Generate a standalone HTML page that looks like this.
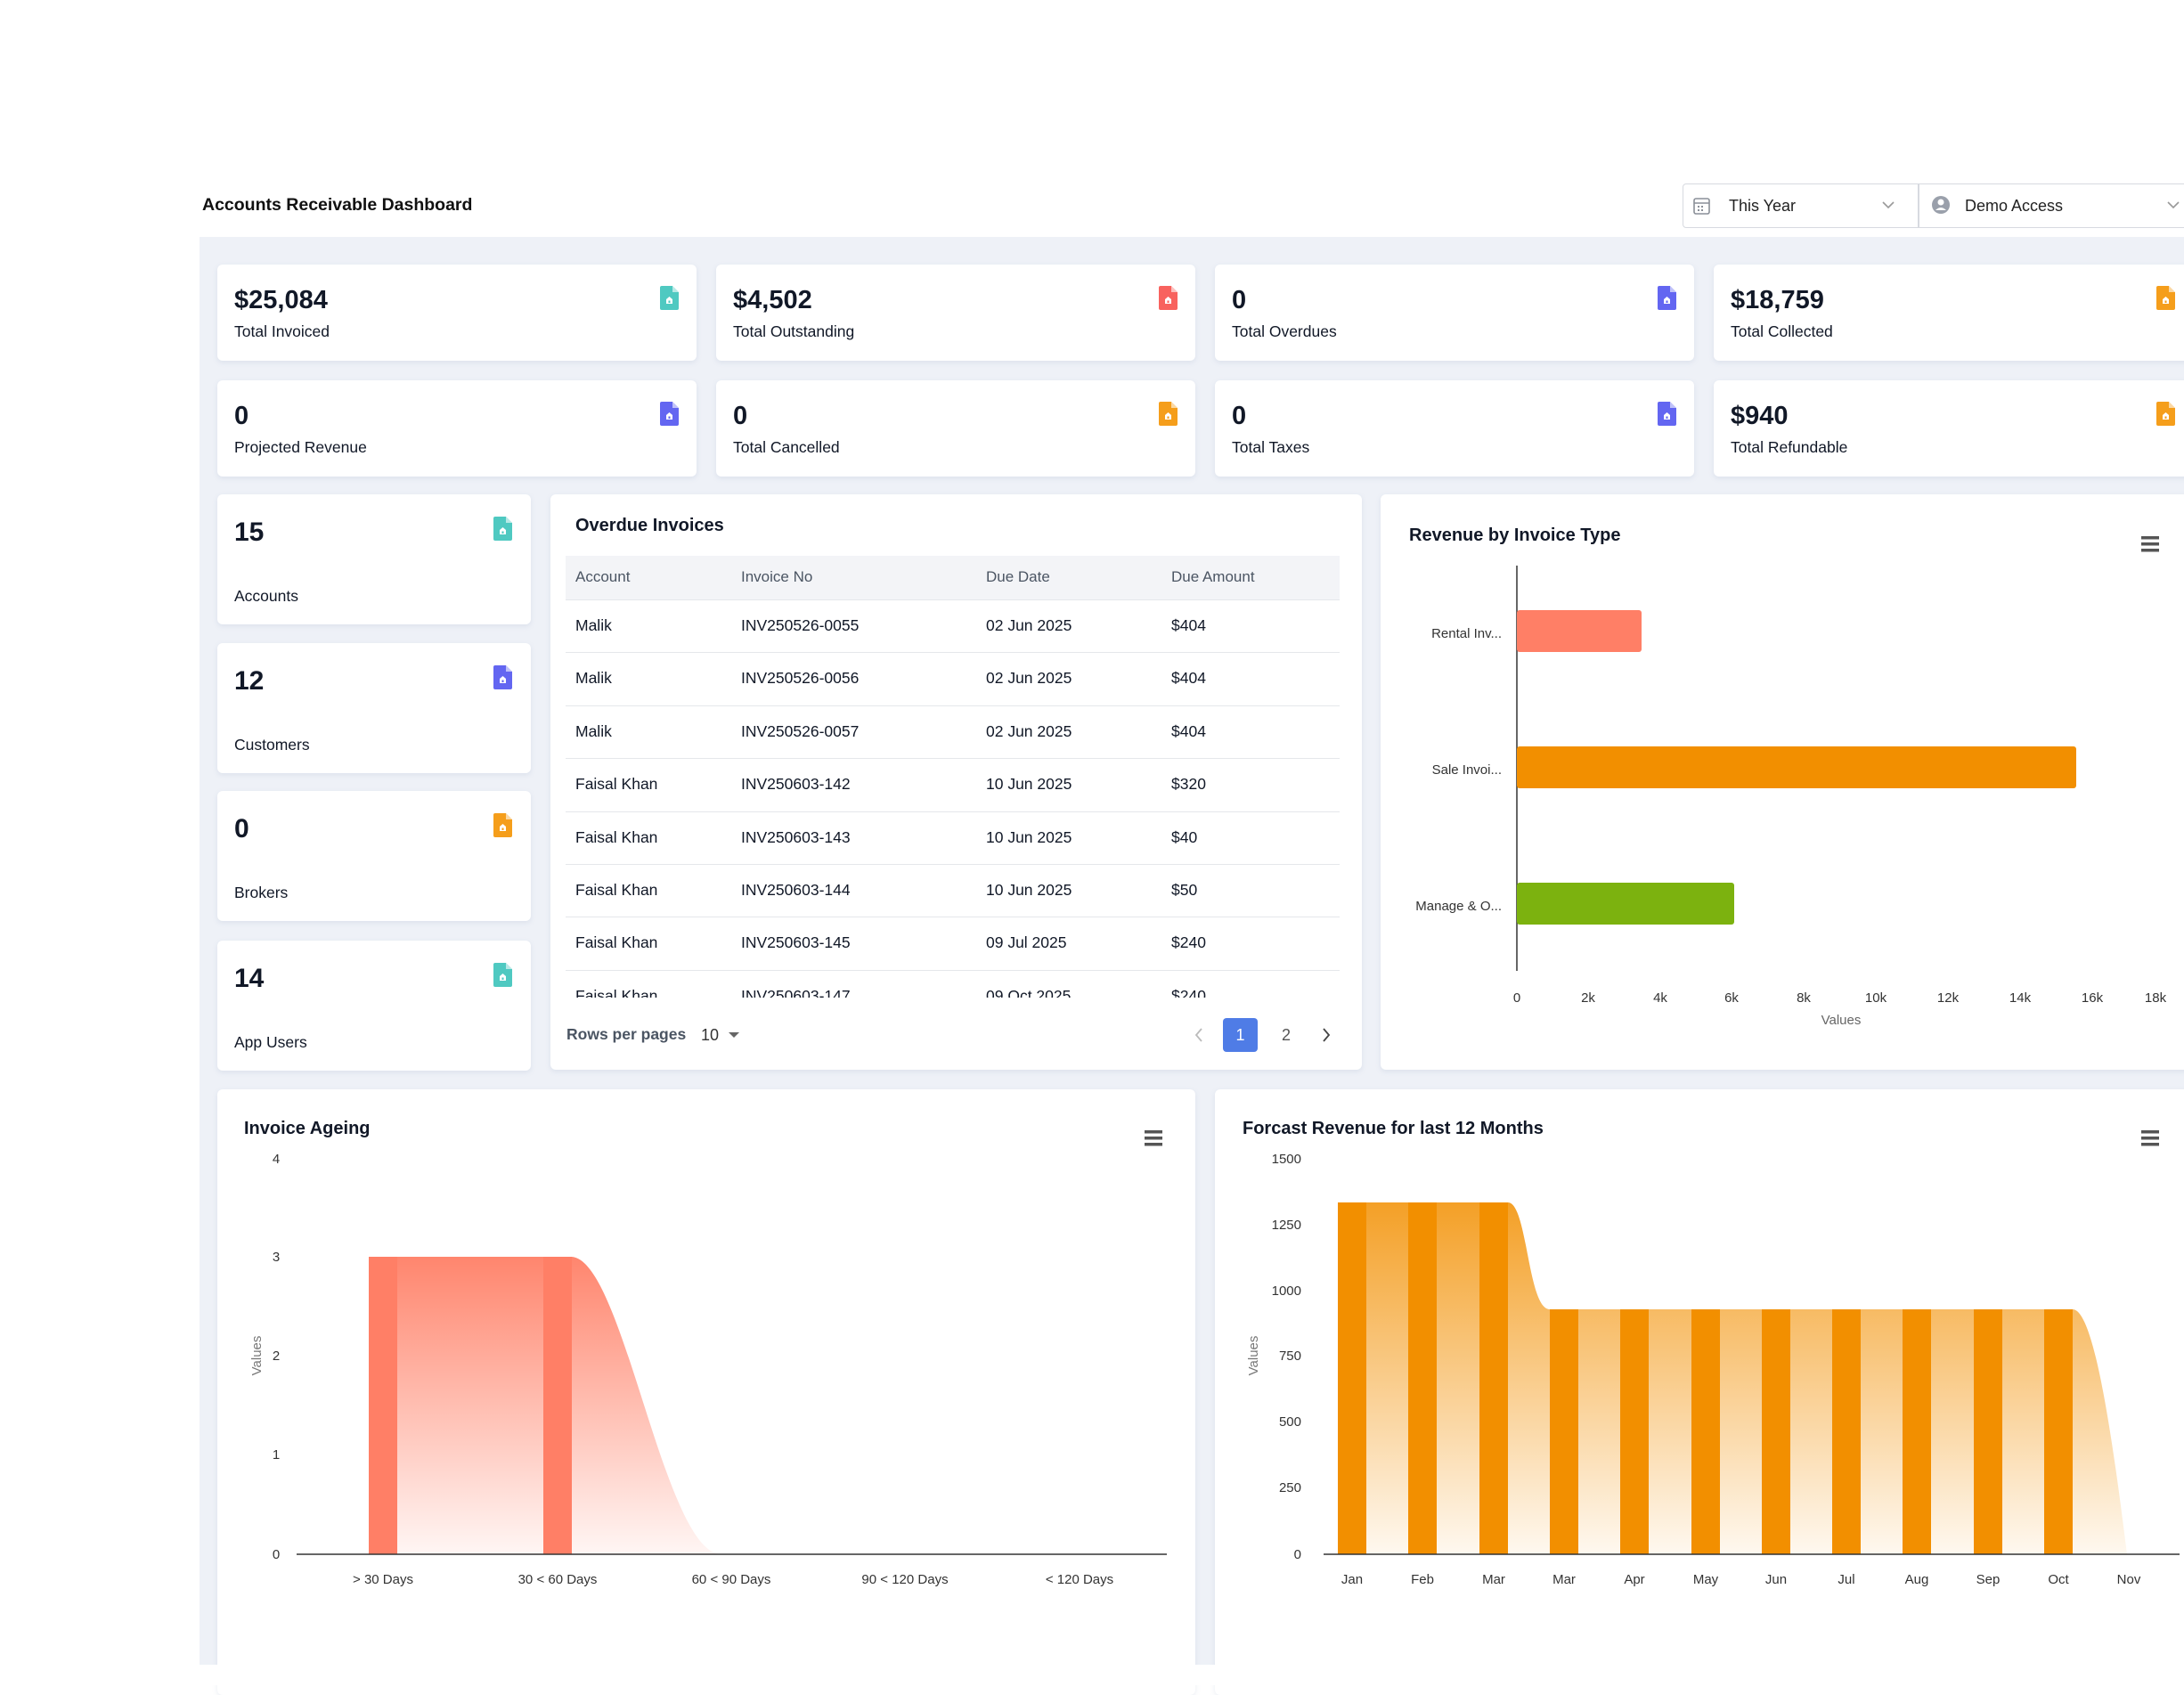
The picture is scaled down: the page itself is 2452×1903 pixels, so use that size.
<!DOCTYPE html>
<html><head><meta charset="utf-8">
<style>
*{margin:0;padding:0;box-sizing:border-box}
html,body{width:2452px;height:1892px;overflow:hidden;background:#fff;font-family:"Liberation Sans",Arial,sans-serif;color:#111827}
.abs{position:absolute}
.panel{position:absolute;left:224px;top:266px;width:2240px;height:1603px;background:#eef1f7}
.card{position:absolute;background:#fff;border-radius:6px;box-shadow:0 2px 6px rgba(140,155,190,0.18)}
.val{position:absolute;left:19px;font-weight:bold;font-size:29px;color:#111827}
.lbl{position:absolute;left:19px;font-size:17.5px;color:#111827}
.ic{position:absolute}
.th{position:absolute;font-size:17px;color:#4b5563;top:14px}
.td{position:absolute;font-size:17.5px;color:#111827}
.t15{font-size:15px;fill:#333}
</style></head><body>
<div class="abs" style="left:227px;top:219px;font-size:19.5px;font-weight:bold;color:#111">Accounts Receivable Dashboard</div>
<div class="abs" style="left:1889px;top:206px;width:580px;height:50px;border:1.5px solid #d7dae0;border-radius:4px;background:#fff"></div>
<div class="abs" style="left:2153px;top:207px;width:1.5px;height:48px;background:#d7dae0"></div>
<svg class="abs" style="left:1900px;top:220px" width="22" height="22" viewBox="0 0 22 22"><rect x="2" y="3" width="17" height="17" rx="2" fill="none" stroke="#8a8f98" stroke-width="1.6"/><line x1="2" y1="8" x2="19" y2="8" stroke="#8a8f98" stroke-width="1.6"/><rect x="6" y="11" width="2" height="2" fill="#8a8f98"/><rect x="10" y="11" width="2" height="2" fill="#8a8f98"/><rect x="6" y="15" width="2" height="2" fill="#8a8f98"/><rect x="10" y="15" width="2" height="2" fill="#8a8f98"/></svg>
<div class="abs" style="left:1941px;top:221px;font-size:18px;color:#222">This Year</div>
<svg class="abs" style="left:2112px;top:224px" width="16" height="12"><polyline points="2,3 8,9 14,3" fill="none" stroke="#999" stroke-width="1.6"/></svg>
<svg class="abs" style="left:2168px;top:218px" width="22" height="24"><circle cx="11" cy="12" r="10" fill="#9aa0ab"/><circle cx="11" cy="9" r="3.5" fill="#fff"/><path d="M5,18 Q11,12 17,18" fill="#fff"/></svg>
<div class="abs" style="left:2206px;top:221px;font-size:18px;color:#222">Demo Access</div>
<svg class="abs" style="left:2432px;top:224px" width="16" height="12"><polyline points="2,3 8,9 14,3" fill="none" stroke="#999" stroke-width="1.6"/></svg>

<div class="panel"></div>

<svg width="0" height="0" style="position:absolute"><defs>
<symbol id="doc" viewBox="0 0 21 27"><path d="M2,0 H14 L21,7 V25 Q21,27 19,27 H2 Q0,27 0,25 V2 Q0,0 2,0 Z"/><path d="M14,0 L14,7 L21,7 Z" fill="#fff" opacity="0.6"/><path d="M10.5,12 L14,15 V20 H7 V15 Z" fill="#fff"/><rect x="9.5" y="16.5" width="2" height="2.5" fill="currentColor"/></symbol>
</defs></svg>

<!-- KPI row 1 -->
<div class="card" style="left:244px;top:297px;width:538px;height:108px"><div class="val" style="top:24px">$25,084</div><div class="lbl" style="top:65px">Total Invoiced</div><svg class="ic" style="left:497px;top:24px;color:#4fc9c1;fill:#4fc9c1" width="21" height="27"><use href="#doc"/></svg></div>
<div class="card" style="left:804px;top:297px;width:538px;height:108px"><div class="val" style="top:24px">$4,502</div><div class="lbl" style="top:65px">Total Outstanding</div><svg class="ic" style="left:497px;top:24px;color:#f8625e;fill:#f8625e" width="21" height="27"><use href="#doc"/></svg></div>
<div class="card" style="left:1364px;top:297px;width:538px;height:108px"><div class="val" style="top:24px">0</div><div class="lbl" style="top:65px">Total Overdues</div><svg class="ic" style="left:497px;top:24px;color:#6366f1;fill:#6366f1" width="21" height="27"><use href="#doc"/></svg></div>
<div class="card" style="left:1924px;top:297px;width:560px;height:108px"><div class="val" style="top:24px">$18,759</div><div class="lbl" style="top:65px">Total Collected</div><svg class="ic" style="left:497px;top:24px;color:#f59e1b;fill:#f59e1b" width="21" height="27"><use href="#doc"/></svg></div>
<!-- KPI row 2 -->
<div class="card" style="left:244px;top:427px;width:538px;height:108px"><div class="val" style="top:24px">0</div><div class="lbl" style="top:65px">Projected Revenue</div><svg class="ic" style="left:497px;top:24px;color:#6366f1;fill:#6366f1" width="21" height="27"><use href="#doc"/></svg></div>
<div class="card" style="left:804px;top:427px;width:538px;height:108px"><div class="val" style="top:24px">0</div><div class="lbl" style="top:65px">Total Cancelled</div><svg class="ic" style="left:497px;top:24px;color:#f59e1b;fill:#f59e1b" width="21" height="27"><use href="#doc"/></svg></div>
<div class="card" style="left:1364px;top:427px;width:538px;height:108px"><div class="val" style="top:24px">0</div><div class="lbl" style="top:65px">Total Taxes</div><svg class="ic" style="left:497px;top:24px;color:#6366f1;fill:#6366f1" width="21" height="27"><use href="#doc"/></svg></div>
<div class="card" style="left:1924px;top:427px;width:560px;height:108px"><div class="val" style="top:24px">$940</div><div class="lbl" style="top:65px">Total Refundable</div><svg class="ic" style="left:497px;top:24px;color:#f59e1b;fill:#f59e1b" width="21" height="27"><use href="#doc"/></svg></div>

<!-- small cards -->
<div class="card" style="left:244px;top:555px;width:352px;height:146px"><div class="val" style="top:26px;font-size:30px">15</div><div class="lbl" style="top:104px">Accounts</div><svg class="ic" style="left:310px;top:25px;color:#4fc9c1;fill:#4fc9c1" width="21" height="27"><use href="#doc"/></svg></div>
<div class="card" style="left:244px;top:722px;width:352px;height:146px"><div class="val" style="top:26px;font-size:30px">12</div><div class="lbl" style="top:104px">Customers</div><svg class="ic" style="left:310px;top:25px;color:#6366f1;fill:#6366f1" width="21" height="27"><use href="#doc"/></svg></div>
<div class="card" style="left:244px;top:888px;width:352px;height:146px"><div class="val" style="top:26px;font-size:30px">0</div><div class="lbl" style="top:104px">Brokers</div><svg class="ic" style="left:310px;top:25px;color:#f59e1b;fill:#f59e1b" width="21" height="27"><use href="#doc"/></svg></div>
<div class="card" style="left:244px;top:1056px;width:352px;height:146px"><div class="val" style="top:26px;font-size:30px">14</div><div class="lbl" style="top:104px">App Users</div><svg class="ic" style="left:310px;top:25px;color:#4fc9c1;fill:#4fc9c1" width="21" height="27"><use href="#doc"/></svg></div>

<!-- table -->
<div class="card" style="left:618px;top:555px;width:911px;height:646px">
 <div class="abs" style="left:28px;top:24px;font-size:20px;font-weight:bold">Overdue Invoices</div>
 <div class="abs" style="left:17px;top:69px;width:869px;height:50px;background:#f3f4f7;border-bottom:1px solid #e5e7eb">
  <div class="th" style="left:11px">Account</div><div class="th" style="left:197px">Invoice No</div><div class="th" style="left:472px">Due Date</div><div class="th" style="left:680px">Due Amount</div>
 </div>
 <div class="abs" style="left:17px;top:119px;width:869px;height:446px;overflow:hidden">
  <div style="position:relative;height:59.4px;border-bottom:1.5px solid #e5e7eb"><div class="td" style="left:11px;top:18px">Malik</div><div class="td" style="left:197px;top:18px">INV250526-0055</div><div class="td" style="left:472px;top:18px">02 Jun 2025</div><div class="td" style="left:680px;top:18px">$404</div></div>
  <div style="position:relative;height:59.4px;border-bottom:1.5px solid #e5e7eb"><div class="td" style="left:11px;top:18px">Malik</div><div class="td" style="left:197px;top:18px">INV250526-0056</div><div class="td" style="left:472px;top:18px">02 Jun 2025</div><div class="td" style="left:680px;top:18px">$404</div></div>
  <div style="position:relative;height:59.4px;border-bottom:1.5px solid #e5e7eb"><div class="td" style="left:11px;top:18px">Malik</div><div class="td" style="left:197px;top:18px">INV250526-0057</div><div class="td" style="left:472px;top:18px">02 Jun 2025</div><div class="td" style="left:680px;top:18px">$404</div></div>
  <div style="position:relative;height:59.4px;border-bottom:1.5px solid #e5e7eb"><div class="td" style="left:11px;top:18px">Faisal Khan</div><div class="td" style="left:197px;top:18px">INV250603-142</div><div class="td" style="left:472px;top:18px">10 Jun 2025</div><div class="td" style="left:680px;top:18px">$320</div></div>
  <div style="position:relative;height:59.4px;border-bottom:1.5px solid #e5e7eb"><div class="td" style="left:11px;top:18px">Faisal Khan</div><div class="td" style="left:197px;top:18px">INV250603-143</div><div class="td" style="left:472px;top:18px">10 Jun 2025</div><div class="td" style="left:680px;top:18px">$40</div></div>
  <div style="position:relative;height:59.4px;border-bottom:1.5px solid #e5e7eb"><div class="td" style="left:11px;top:18px">Faisal Khan</div><div class="td" style="left:197px;top:18px">INV250603-144</div><div class="td" style="left:472px;top:18px">10 Jun 2025</div><div class="td" style="left:680px;top:18px">$50</div></div>
  <div style="position:relative;height:59.4px;border-bottom:1.5px solid #e5e7eb"><div class="td" style="left:11px;top:18px">Faisal Khan</div><div class="td" style="left:197px;top:18px">INV250603-145</div><div class="td" style="left:472px;top:18px">09 Jul 2025</div><div class="td" style="left:680px;top:18px">$240</div></div>
  <div style="position:relative;height:59.4px;border-bottom:1.5px solid #e5e7eb"><div class="td" style="left:11px;top:18px">Faisal Khan</div><div class="td" style="left:197px;top:18px">INV250603-147</div><div class="td" style="left:472px;top:18px">09 Oct 2025</div><div class="td" style="left:680px;top:18px">$240</div></div>
 </div>
 <div class="abs" style="left:18px;top:596px;font-size:17.5px;color:#4b5563;font-weight:bold">Rows per pages</div>
 <div class="abs" style="left:169px;top:597px;font-size:18px;color:#333">10</div>
 <svg class="abs" style="left:199px;top:602px" width="14" height="10"><polygon points="1,2 13,2 7,8" fill="#666"/></svg>
 <svg class="abs" style="left:722px;top:598px" width="12" height="18"><polyline points="9,2 3,9 9,16" fill="none" stroke="#bbb" stroke-width="1.8"/></svg>
 <div class="abs" style="left:755px;top:588px;width:39px;height:38px;background:#4f7ce6;border-radius:4px;color:#fff;font-size:18px;text-align:center;line-height:38px">1</div>
 <div class="abs" style="left:821px;top:597px;font-size:18px;color:#555">2</div>
 <svg class="abs" style="left:865px;top:598px" width="12" height="18"><polyline points="3,2 9,9 3,16" fill="none" stroke="#444" stroke-width="1.8"/></svg>
</div>

<!-- revenue by type -->
<div class="card" style="left:1550px;top:555px;width:920px;height:646px"></div>
<svg class="abs" style="left:0;top:0" width="2452" height="1892">
 <text x="1582" y="607" font-size="20" font-weight="bold" fill="#111827">Revenue by Invoice Type</text>
 <rect x="2404" y="602" width="20" height="3.5" fill="#555"/><rect x="2404" y="609" width="20" height="3.5" fill="#555"/><rect x="2404" y="616" width="20" height="3.5" fill="#555"/>
 <line x1="1703" y1="635" x2="1703" y2="1090" stroke="#333" stroke-width="1.5"/>
 <rect x="1703" y="685" width="140" height="47" rx="3" fill="#ff7f66"/>
 <rect x="1703" y="838" width="628" height="47" rx="3" fill="#f28f00"/>
 <rect x="1703" y="991" width="244" height="47" rx="3" fill="#7cb20f"/>
 <g class="t15" text-anchor="end" font-size="15" fill="#333">
  <text x="1686" y="716">Rental Inv...</text><text x="1686" y="869">Sale Invoi...</text><text x="1686" y="1022">Manage &amp; O...</text>
 </g>
 <g font-size="15" fill="#333" text-anchor="middle">
  <text x="1703" y="1125">0</text><text x="1783" y="1125">2k</text><text x="1864" y="1125">4k</text><text x="1944" y="1125">6k</text><text x="2025" y="1125">8k</text><text x="2106" y="1125">10k</text><text x="2187" y="1125">12k</text><text x="2268" y="1125">14k</text><text x="2349" y="1125">16k</text><text x="2420" y="1125">18k</text>
  <text x="2067" y="1150" fill="#666">Values</text>
 </g>
</svg>

<!-- bottom cards -->
<div class="card" style="left:244px;top:1223px;width:1098px;height:680px"></div>
<div class="card" style="left:1364px;top:1223px;width:1110px;height:680px"></div>
<svg class="abs" style="left:0;top:0" width="2452" height="1892">
 <defs>
  <linearGradient id="ga" x1="0" y1="0" x2="0" y2="1"><stop offset="0" stop-color="#ff7f66" stop-opacity="0.95"/><stop offset="1" stop-color="#ff7f66" stop-opacity="0.07"/></linearGradient>
  <linearGradient id="gf" x1="0" y1="0" x2="0" y2="1"><stop offset="0" stop-color="#f28f00" stop-opacity="0.85"/><stop offset="1" stop-color="#f28f00" stop-opacity="0.06"/></linearGradient>
 </defs>
 <!-- Ageing -->
 <text x="274" y="1273" font-size="20" font-weight="bold" fill="#111827">Invoice Ageing</text>
 <rect x="1285" y="1269" width="20" height="3.5" fill="#555"/><rect x="1285" y="1276" width="20" height="3.5" fill="#555"/><rect x="1285" y="1283" width="20" height="3.5" fill="#555"/>
 <g font-size="15" fill="#333" text-anchor="middle">
  <text x="310" y="1306">4</text><text x="310" y="1416">3</text><text x="310" y="1527">2</text><text x="310" y="1638">1</text><text x="310" y="1750">0</text>
  <text x="430" y="1778">&gt; 30 Days</text><text x="626" y="1778">30 &lt; 60 Days</text><text x="821" y="1778">60 &lt; 90 Days</text><text x="1016" y="1778">90 &lt; 120 Days</text><text x="1212" y="1778">&lt; 120 Days</text>
  <text x="0" y="0" fill="#777" transform="translate(293,1522) rotate(-90)">Values</text>
 </g>
 <path d="M414,1411 L641,1411 C700,1411 745,1745 810,1745 L414,1745 Z" fill="url(#ga)"/>
 <rect x="414" y="1411" width="32" height="334" fill="#ff7f66"/>
 <rect x="610" y="1411" width="32" height="334" fill="#ff7f66"/>
 <line x1="333" y1="1745" x2="1310" y2="1745" stroke="#333" stroke-width="1.5"/>
 <!-- Forecast -->
 <text x="1395" y="1273" font-size="20" font-weight="bold" fill="#111827">Forcast Revenue for last 12 Months</text>
 <rect x="2404" y="1269" width="20" height="3.5" fill="#555"/><rect x="2404" y="1276" width="20" height="3.5" fill="#555"/><rect x="2404" y="1283" width="20" height="3.5" fill="#555"/>
 <g font-size="15" fill="#333" text-anchor="end">
  <text x="1461" y="1306">1500</text><text x="1461" y="1380">1250</text><text x="1461" y="1454">1000</text><text x="1461" y="1527">750</text><text x="1461" y="1601">500</text><text x="1461" y="1675">250</text><text x="1461" y="1750">0</text>
 </g>
 <text x="0" y="0" font-size="15" fill="#777" text-anchor="middle" transform="translate(1412,1522) rotate(-90)">Values</text>
 <path d="M1502,1350 L1693,1350 C1715,1350 1715,1470 1740,1470 L2327,1470 C2350,1470 2370,1600 2388,1745 L1502,1745 Z" fill="url(#gf)"/>
 <g fill="#f28f00">
  <rect x="1502" y="1350" width="32" height="395"/><rect x="1581" y="1350" width="32" height="395"/><rect x="1661" y="1350" width="32" height="395"/>
  <rect x="1740" y="1470" width="32" height="275"/><rect x="1819" y="1470" width="32" height="275"/><rect x="1899" y="1470" width="32" height="275"/><rect x="1978" y="1470" width="32" height="275"/><rect x="2057" y="1470" width="32" height="275"/><rect x="2136" y="1470" width="32" height="275"/><rect x="2216" y="1470" width="32" height="275"/><rect x="2295" y="1470" width="32" height="275"/>
 </g>
 <line x1="1486" y1="1745" x2="2447" y2="1745" stroke="#333" stroke-width="1.5"/>
 <g font-size="15" fill="#333" text-anchor="middle">
  <text x="1518" y="1778">Jan</text><text x="1597" y="1778">Feb</text><text x="1677" y="1778">Mar</text><text x="1756" y="1778">Mar</text><text x="1835" y="1778">Apr</text><text x="1915" y="1778">May</text><text x="1994" y="1778">Jun</text><text x="2073" y="1778">Jul</text><text x="2152" y="1778">Aug</text><text x="2232" y="1778">Sep</text><text x="2311" y="1778">Oct</text><text x="2390" y="1778">Nov</text>
 </g>
</svg>
<div class="abs" style="left:0;top:1869px;width:2452px;height:23px;background:#fff"></div>
</body></html>
